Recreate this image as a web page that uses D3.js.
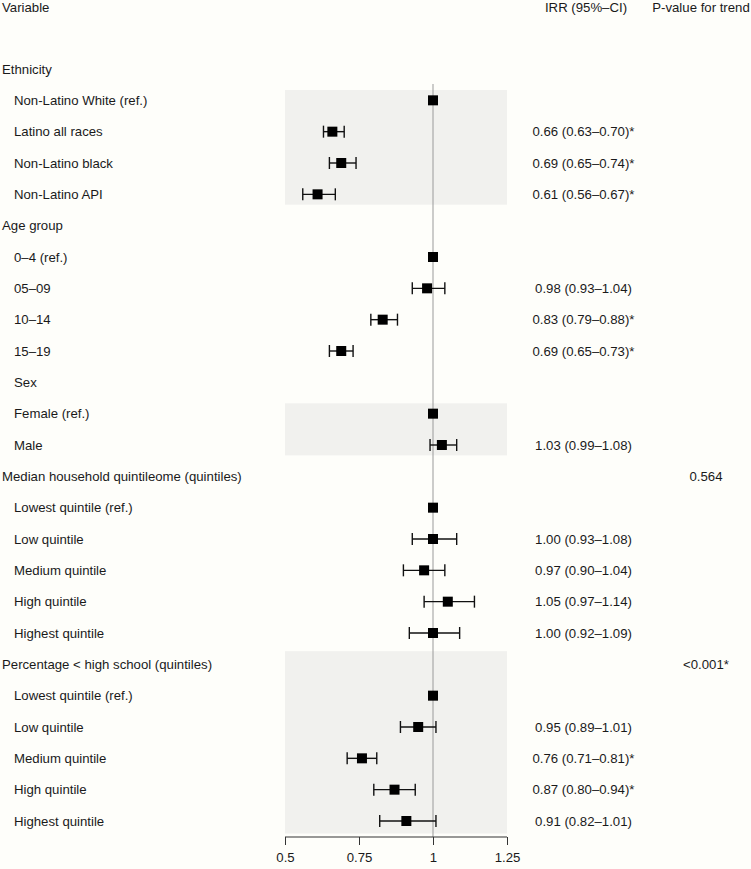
<!DOCTYPE html>
<html>
<head>
<meta charset="utf-8">
<script src="https://cdn.jsdelivr.net/npm/d3@7"></script>
<style>
  body { margin: 0; background: #fefefa; }
  text { font-family: "Liberation Sans", Arial, Helvetica, sans-serif; fill: #1a1a1a; }
</style>
</head>
<body>
<div id="chart"></div>
<script>
// Row labels (group headings and levels)
const labels = [
  'Ethnicity', 'Non-Latino White (ref.)', 'Latino all races', 'Non-Latino black', 'Non-Latino API',
  'Age group', '0–4 (ref.)', '05–09', '10–14', '15–19',
  'Sex', 'Female (ref.)', 'Male',
  'Median household quintileome (quintiles)', 'Lowest quintile (ref.)', 'Low quintile', 'Medium quintile', 'High quintile', 'Highest quintile',
  'Percentage < high school (quintiles)', 'Lowest quintile (ref.)', 'Low quintile', 'Medium quintile', 'High quintile', 'Highest quintile'
];
const indent = [0, 1, 1, 1, 1, 0, 1, 1, 1, 1, 1, 1, 1, 0, 1, 1, 1, 1, 1, 0, 1, 1, 1, 1, 1];

// IRR estimates and 95% CI
const irr   = [null, 1, 0.66, 0.69, 0.61, null, 1, 0.98, 0.83, 0.69, null, 1, 1.03, null, 1, 1.00, 0.97, 1.05, 1.00, null, 1, 0.95, 0.76, 0.87, 0.91];
const lower = [null, null, 0.63, 0.65, 0.56, null, null, 0.93, 0.79, 0.65, null, null, 0.99, null, null, 0.93, 0.90, 0.97, 0.92, null, null, 0.89, 0.71, 0.80, 0.82];
const upper = [null, null, 0.70, 0.74, 0.67, null, null, 1.04, 0.88, 0.73, null, null, 1.08, null, null, 1.08, 1.04, 1.14, 1.09, null, null, 1.01, 0.81, 0.94, 1.01];

// text columns
const irrText = ['', '', '0.66 (0.63–0.70)*', '0.69 (0.65–0.74)*', '0.61 (0.56–0.67)*',
  '', '', '0.98 (0.93–1.04)', '0.83 (0.79–0.88)*', '0.69 (0.65–0.73)*',
  '', '', '1.03 (0.99–1.08)',
  '', '', '1.00 (0.93–1.08)', '0.97 (0.90–1.04)', '1.05 (0.97–1.14)', '1.00 (0.92–1.09)',
  '', '', '0.95 (0.89–1.01)', '0.76 (0.71–0.81)*', '0.87 (0.80–0.94)*', '0.91 (0.82–1.01)'];
const pTrend = ['', '', '', '', '', '', '', '', '', '', '', '', '',
  '0.564', '', '', '', '', '',
  '<0.001*', '', '', '', '', ''];

// shaded blocks, as [first row, last row]
const bands = [[1, 4], [11, 12], [19, 24]];
const xTicks = [0.5, 0.75, 1, 1.25];

const width = 751, height = 869;
const fs = '13.2px';

const svg = d3.select('#chart')
  .append('svg')
  .attr('width', width)
  .attr('height', height);

const x = d3.scaleLinear().domain([0.5, 1.25]).range([285, 507]);
const y = d3.scaleLinear().domain([0, labels.length - 1]).range([69, 821]);
const step = y(1) - y(0);

// grey bands
svg.selectAll('.band')
  .data(bands)
  .enter()
  .append('rect')
  .attr('x', x(0.5))
  .attr('width', x(1.25) - x(0.5))
  .attr('y', d => y(d[0]) - (d[0] === 19 ? step * 0.42 : step * 0.33))
  .attr('height', d => y(d[1]) - y(d[0]) + (d[0] === 19 ? step * 0.82 : step * 0.66))
  .attr('fill', '#f1f1ee');

// reference line at 1
svg.append('line')
  .attr('x1', x(1)).attr('x2', x(1))
  .attr('y1', 84).attr('y2', 837)
  .attr('stroke', '#9a9a9a')
  .attr('stroke-width', 1);

// column headers
svg.append('text').attr('x', 2).attr('y', 12).style('font-size', fs).text('Variable');
svg.append('text').attr('x', 586).attr('y', 12).attr('text-anchor', 'middle').style('font-size', fs).text('IRR (95%–CI)');
svg.append('text').attr('x', 701).attr('y', 12).attr('text-anchor', 'middle').style('font-size', fs).text('P-value for trend');

const rows = labels.map((l, i) => ({ i, label: l, indent: indent[i], est: irr[i], lo: lower[i], hi: upper[i], txt: irrText[i], p: pTrend[i] }));

// labels
svg.selectAll('.lab')
  .data(rows)
  .enter()
  .append('text')
  .attr('x', d => d.indent ? 14 : 2)
  .attr('y', d => y(d.i) + 4.8)
  .style('font-size', fs)
  .text(d => d.label);

// CI whiskers
const ci = rows.filter(d => d.lo !== null);
const g = svg.append('g').attr('stroke', '#111').attr('stroke-width', 1.4);
g.selectAll('.ci')
  .data(ci)
  .enter()
  .append('line')
  .attr('x1', d => x(d.lo)).attr('x2', d => x(d.hi))
  .attr('y1', d => y(d.i)).attr('y2', d => y(d.i));
g.selectAll('.capl')
  .data(ci)
  .enter()
  .append('line')
  .attr('x1', d => x(d.lo)).attr('x2', d => x(d.lo))
  .attr('y1', d => y(d.i) - 6).attr('y2', d => y(d.i) + 6);
g.selectAll('.capr')
  .data(ci)
  .enter()
  .append('line')
  .attr('x1', d => x(d.hi)).attr('x2', d => x(d.hi))
  .attr('y1', d => y(d.i) - 6).attr('y2', d => y(d.i) + 6);

// point estimates
svg.selectAll('.pt')
  .data(rows.filter(d => d.est !== null))
  .enter()
  .append('rect')
  .attr('x', d => x(d.est) - 5)
  .attr('y', d => y(d.i) - 5)
  .attr('width', 10)
  .attr('height', 10)
  .attr('fill', '#000');

// IRR text
svg.selectAll('.irr')
  .data(rows.filter(d => d.txt))
  .enter()
  .append('text')
  .attr('x', 583.5)
  .attr('y', d => y(d.i) + 4.8)
  .attr('text-anchor', 'middle')
  .style('font-size', fs)
  .text(d => d.txt);

// p for trend
svg.selectAll('.ptr')
  .data(rows.filter(d => d.p))
  .enter()
  .append('text')
  .attr('x', 706)
  .attr('y', d => y(d.i) + 4.8)
  .attr('text-anchor', 'middle')
  .style('font-size', fs)
  .text(d => d.p);

// x axis
const ax = svg.append('g')
  .attr('transform', 'translate(0,837)')
  .call(d3.axisBottom(x).tickValues(xTicks).tickSize(8).tickPadding(8).tickFormat(d3.format('')));
ax.select('.domain').attr('stroke', '#333').attr('d', `M${x(0.5)},0H${x(1.25)}`);
ax.selectAll('.tick line').attr('stroke', '#333');
ax.selectAll('.tick text')
  .style('font-family', '"Liberation Sans", Arial, sans-serif')
  .style('font-size', fs)
  .attr('fill', '#1a1a1a');
</script>
</body>
</html>
